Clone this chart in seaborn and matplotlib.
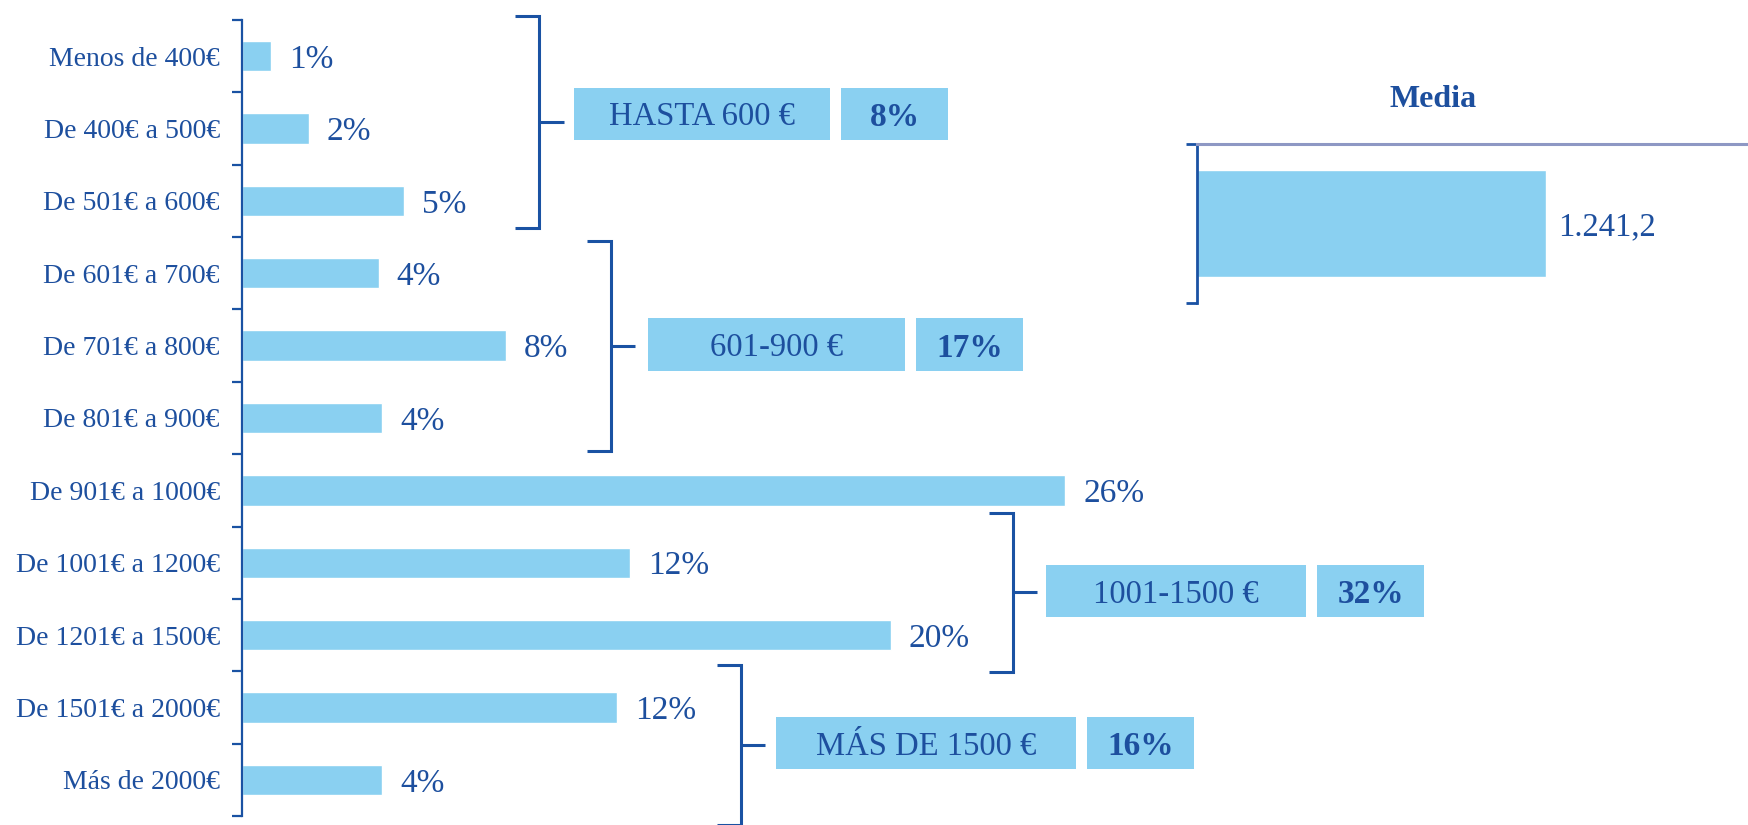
import matplotlib
matplotlib.use("Agg")
import matplotlib.pyplot as plt
import numpy as np
import pandas as pd
import seaborn as sns
from matplotlib.patches import Rectangle

# Income bands and share of households (%)
categories = ["Menos de 400€", "De 400€ a 500€", "De 501€ a 600€", "De 601€ a 700€",
              "De 701€ a 800€", "De 801€ a 900€", "De 901€ a 1000€", "De 1001€ a 1200€",
              "De 1201€ a 1500€", "De 1501€ a 2000€", "Más de 2000€"]
shares = [0.9, 2.1, 5.1, 4.3, 8.3, 4.4, 25.9, 12.2, 20.4, 11.8, 4.4]

# Grouped bands
group_names = ["HASTA 600 €", "601-900 €", "1001-1500 €", "MÁS DE 1500 €"]
group_first = [0, 3, 7, 9]
group_last = [2, 5, 8, 10]
group_shares = [8, 17, 32, 16]

# Mean income
mean_title = "Media"
mean_value = 1241.2

# Styling
BAR = "#8AD0F1"
INK = "#1D4F9E"
LINE = "#1A52A3"
GREY = "#8E98C4"

sns.set_theme(style="white")
plt.rcParams["font.family"] = ["Liberation Serif", "DejaVu Serif"]
plt.rcParams["text.color"] = INK

W, H = 1749, 825
fig = plt.figure(figsize=(W / 100, H / 100), dpi=100)

# ---- main bar chart ----
ax = fig.add_axes([242 / W, 9 / H, (W - 242) / W, 796 / H])
df = pd.DataFrame({"banda": categories, "pct": shares})
sns.barplot(data=df, x="pct", y="banda", orient="h", color=BAR, saturation=1,
            width=0.42, ax=ax)
ax.set_xlim(0, 47.4)
ax.set_ylim(len(categories) - 0.5, -0.5)
ax.set_xlabel("")
ax.set_ylabel("")
ax.set_xticks([])
for s in ("top", "right", "bottom"):
    ax.spines[s].set_visible(False)
ax.spines["left"].set_color(LINE)
ax.spines["left"].set_linewidth(1.6)
ax.set_yticks(np.arange(-0.5, len(categories), 1.0), minor=True)
ax.tick_params(axis="y", which="major", length=0, pad=16, labelsize=20, labelcolor=INK)
ax.tick_params(axis="y", which="minor", length=7, width=1.6, color=LINE, left=True)

for i, v in enumerate(shares):
    ax.annotate(f"{v:.0f}%", xy=(v, i), xytext=(13, 0), textcoords="offset points",
                va="center_baseline", ha="left", fontsize=24, color=INK)

# bracket layout per group (x in % units, y padding in category units)
bracket_x = [9.35, 11.6, 24.25, 15.68]
pad_top = [0.06, -0.05, 0.19, 0.09]
pad_bot = [-0.13, -0.04, 0.01, 0.12]
box_x = [10.44, 12.76, 25.3, 16.8]
box_w = [8.05, 8.08, 8.16, 9.42]
box_dy = [-0.11, -0.02, -0.02, -0.02]
arm, stub, gap, pct_w, box_h = 0.75, 0.77, 0.36, 3.35, 0.72

for k in range(len(group_names)):
    top = group_first[k] - 0.5 - pad_top[k]
    bot = group_last[k] + 0.5 + pad_bot[k]
    bx = bracket_x[k]
    mid = (top + bot) / 2
    ax.plot([bx - arm, bx, bx, bx - arm], [top, top, bot, bot], color=LINE, lw=2.2,
            clip_on=False, solid_capstyle="butt", solid_joinstyle="miter")
    ax.plot([bx, bx + stub], [mid, mid], color=LINE, lw=2.2, clip_on=False,
            solid_capstyle="butt")
    yc = mid + box_dy[k]
    ax.add_patch(Rectangle((box_x[k], yc - box_h / 2), box_w[k], box_h, facecolor=BAR,
                           edgecolor="none", clip_on=False))
    ax.text(box_x[k] + box_w[k] / 2, yc, group_names[k], ha="center",
            va="center_baseline", fontsize=23.5, color=INK)
    px = box_x[k] + box_w[k] + gap
    ax.add_patch(Rectangle((px, yc - box_h / 2), pct_w, box_h, facecolor=BAR,
                           edgecolor="none", clip_on=False))
    ax.text(px + pct_w / 2, yc, f"{group_shares[k]}%", ha="center",
            va="center_baseline", fontsize=24, fontweight="bold", color=INK)

# ---- mean panel ----
axm = fig.add_axes([1197 / W, (H - 303) / H, (W - 1197) / W, 159 / H])
sns.barplot(x=[mean_value], y=[mean_title], orient="h", color=BAR, saturation=1,
            width=0.67, ax=axm)
axm.set_xlim(0, 1963)
axm.set_ylim(0.5, -0.5)
axm.set_xticks([])
axm.set_yticks([])
axm.set_yticks([-0.5, 0.5], minor=True)
axm.tick_params(axis="y", which="minor", length=8, width=2, color=LINE, left=True)
axm.set_xlabel("")
axm.set_ylabel("")
for s in ("right", "bottom"):
    axm.spines[s].set_visible(False)
axm.spines["left"].set_color(LINE)
axm.spines["left"].set_linewidth(2)
axm.spines["top"].set_color(GREY)
axm.spines["top"].set_linewidth(2.2)
mean_txt = f"{mean_value:,.1f}".replace(",", "X").replace(".", ",").replace("X", ".")
axm.annotate(mean_txt, xy=(mean_value, 0), xytext=(9, 0), textcoords="offset points",
             va="center_baseline", ha="left", fontsize=23.5, color=INK)
axm.text(0.428, 1.30, mean_title, transform=axm.transAxes, ha="center",
         va="center_baseline", fontsize=23, fontweight="bold", color=INK)

fig.savefig("out.png", dpi=100)
